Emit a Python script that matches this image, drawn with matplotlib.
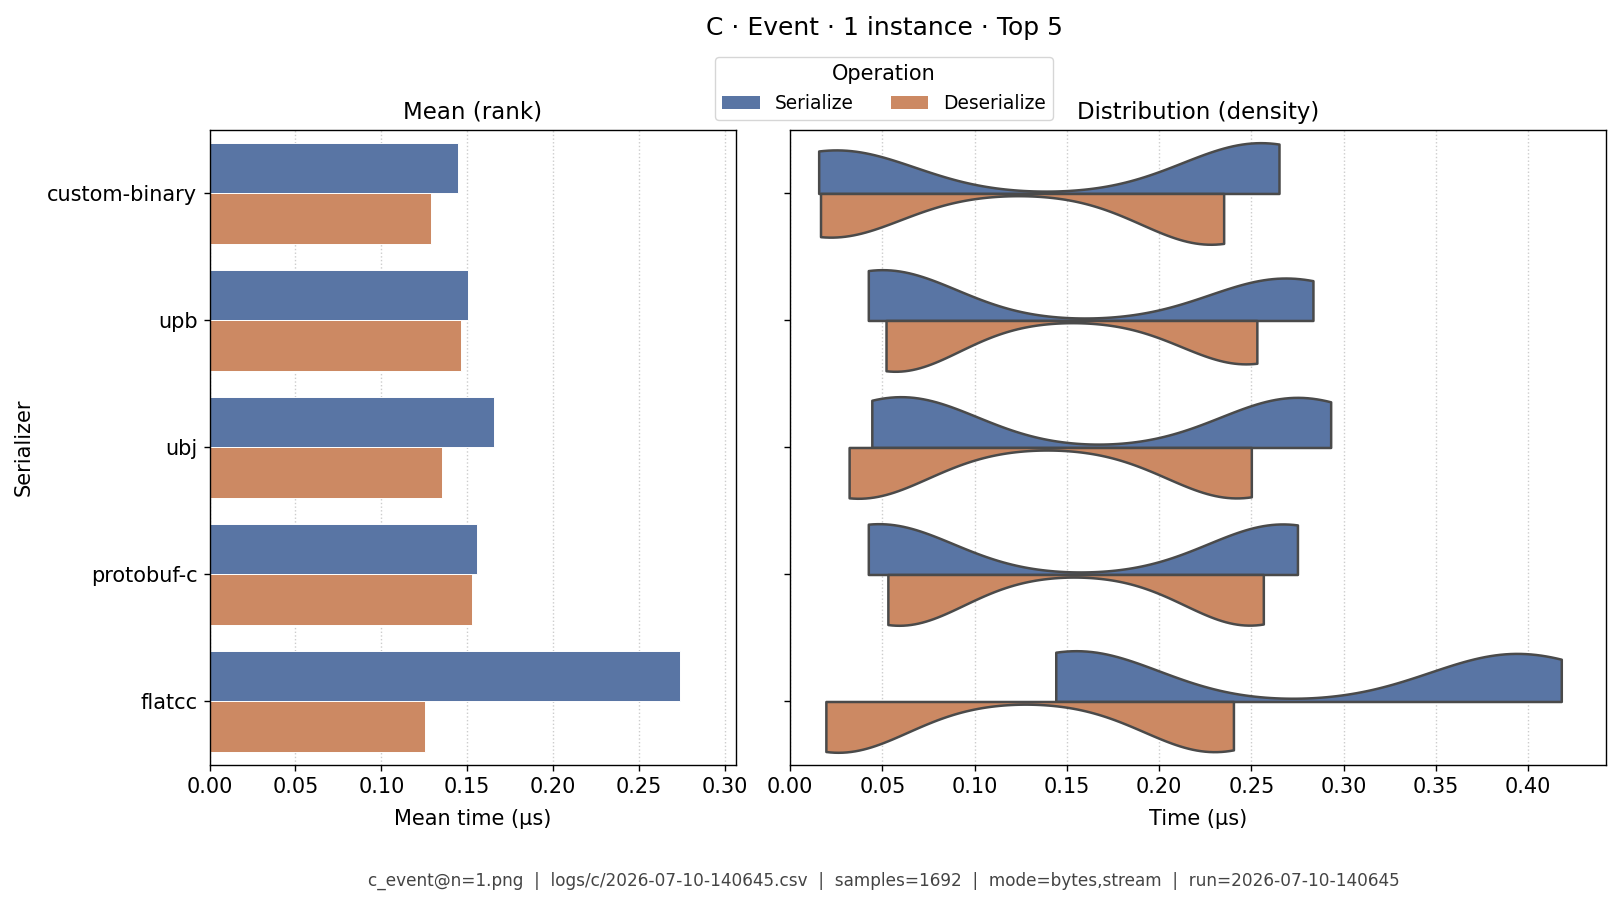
import matplotlib
matplotlib.use("Agg")
import matplotlib.pyplot as plt
import pandas as pd
import seaborn as sns
from matplotlib.patches import Patch

serializers = ["custom-binary", "upb", "ubj", "protobuf-c", "flatcc"]
operations = ["Serialize", "Deserialize"]

# mean time per serializer (µs)
mean_serialize = [0.1445, 0.1505, 0.1655, 0.1558, 0.2740]
mean_deserialize = [0.1288, 0.1465, 0.1353, 0.1528, 0.1255]

# individual timings (µs)
custom_binary_ser = [0.0155, 0.019, 0.023, 0.027, 0.031, 0.0345,
                     0.245, 0.248, 0.252, 0.255, 0.258, 0.262, 0.265]
custom_binary_des = [0.0165, 0.019, 0.021, 0.023, 0.025, 0.0275,
                     0.221, 0.223, 0.226, 0.228, 0.230, 0.233, 0.235]
upb_ser = [0.0424, 0.045, 0.048, 0.050, 0.052, 0.055, 0.0576,
           0.254, 0.259, 0.265, 0.272, 0.278, 0.2834]
upb_des = [0.052, 0.054, 0.056, 0.057, 0.058, 0.060, 0.062,
           0.241, 0.243, 0.246, 0.248, 0.251, 0.253]
ubj_ser = [0.0443, 0.050, 0.057, 0.063, 0.070, 0.0757,
           0.257, 0.263, 0.271, 0.279, 0.287, 0.293]
ubj_des = [0.032, 0.034, 0.036, 0.038, 0.040, 0.042,
           0.234, 0.237, 0.240, 0.244, 0.247, 0.250]
protobuf_c_ser = [0.0424, 0.045, 0.047, 0.049, 0.051, 0.0536,
                  0.259, 0.262, 0.265, 0.269, 0.272, 0.275]
protobuf_c_des = [0.053, 0.055, 0.058, 0.060, 0.063, 0.065,
                  0.2415, 0.245, 0.248, 0.250, 0.253, 0.2565]
flatcc_ser = [0.144, 0.148, 0.153, 0.157, 0.162, 0.166,
              0.370, 0.379, 0.389, 0.399, 0.409, 0.418]
flatcc_des = [0.0194, 0.022, 0.025, 0.027, 0.030, 0.0326,
              0.2197, 0.223, 0.227, 0.233, 0.237, 0.2403]

footer = ("c_event@n=1.png  |  logs/c/2026-07-10-140645.csv  |  samples=1692  |  "
          "mode=bytes,stream  |  run=2026-07-10-140645")

samples = {
    ("custom-binary", "Serialize"): custom_binary_ser,
    ("custom-binary", "Deserialize"): custom_binary_des,
    ("upb", "Serialize"): upb_ser,
    ("upb", "Deserialize"): upb_des,
    ("ubj", "Serialize"): ubj_ser,
    ("ubj", "Deserialize"): ubj_des,
    ("protobuf-c", "Serialize"): protobuf_c_ser,
    ("protobuf-c", "Deserialize"): protobuf_c_des,
    ("flatcc", "Serialize"): flatcc_ser,
    ("flatcc", "Deserialize"): flatcc_des,
}
dist = pd.DataFrame([(s, op, t) for (s, op), vals in samples.items() for t in vals],
                    columns=["Serializer", "Operation", "Time"])
means = pd.DataFrame({
    "Serializer": serializers * 2,
    "Operation": ["Serialize"] * 5 + ["Deserialize"] * 5,
    "Mean": mean_serialize + mean_deserialize,
})

pal = sns.color_palette("deep", 2)
grid_kw = dict(axis="x", linestyle=":", color="#cccccc", linewidth=1.0)
tick_kw = dict(labelsize=15, length=4.4, width=1.0, pad=4.4)

fig = plt.figure(figsize=(16.19, 9.05), dpi=100)
ax1 = fig.add_axes([0.1295, 0.1547, 0.3252, 0.7017])
ax2 = fig.add_axes([0.488, 0.1547, 0.5037, 0.7017], sharey=ax1)

sns.barplot(data=means, x="Mean", y="Serializer", hue="Operation",
            order=serializers, hue_order=operations, palette=pal,
            errorbar=None, edgecolor="white", linewidth=0.7,
            legend=False, ax=ax1)
ax1.set_xlim(0, 0.3067)
ax1.grid(**grid_kw)
ax1.set_axisbelow(True)
ax1.set_title("Mean (rank)", fontsize=16.5, pad=8)
ax1.set_xlabel("Mean time (µs)", fontsize=15, labelpad=8.5)
ax1.set_ylabel("Serializer", fontsize=15, labelpad=10)
ax1.tick_params(**tick_kw)

sns.violinplot(data=dist, x="Time", y="Serializer", hue="Operation",
               order=serializers, hue_order=operations, palette=pal,
               split=True, cut=0, inner=None, density_norm="width",
               bw_method=0.35, linecolor="#4a4a4a", linewidth=1.8,
               legend=False, ax=ax2)
ax2.set_xlim(0, 0.442)
ax2.grid(**grid_kw)
ax2.set_axisbelow(True)
ax2.set_title("Distribution (density)", fontsize=16.5, pad=8)
ax2.set_xlabel("Time (µs)", fontsize=15, labelpad=8.5)
ax2.set_ylabel("")
ax2.tick_params(labelleft=False, **tick_kw)

for ax in (ax1, ax2):
    for spine in ax.spines.values():
        spine.set_linewidth(1.0)

handles = [Patch(facecolor=sns.desaturate(c, 0.75), label=op)
           for c, op in zip(pal, operations)]
fig.legend(handles=handles, title="Operation", loc="upper center",
           bbox_to_anchor=(0.546, 0.937), borderaxespad=0, ncol=2,
           fontsize=13.4, title_fontsize=15)

fig.suptitle("C · Event · 1 instance · Top 5", x=0.546, y=0.969, va="center",
             fontsize=18)
fig.text(0.546, 0.027, footer, ha="center", va="center", fontsize=12.2,
         color="#444444")

fig.savefig("out.png", dpi=100)
